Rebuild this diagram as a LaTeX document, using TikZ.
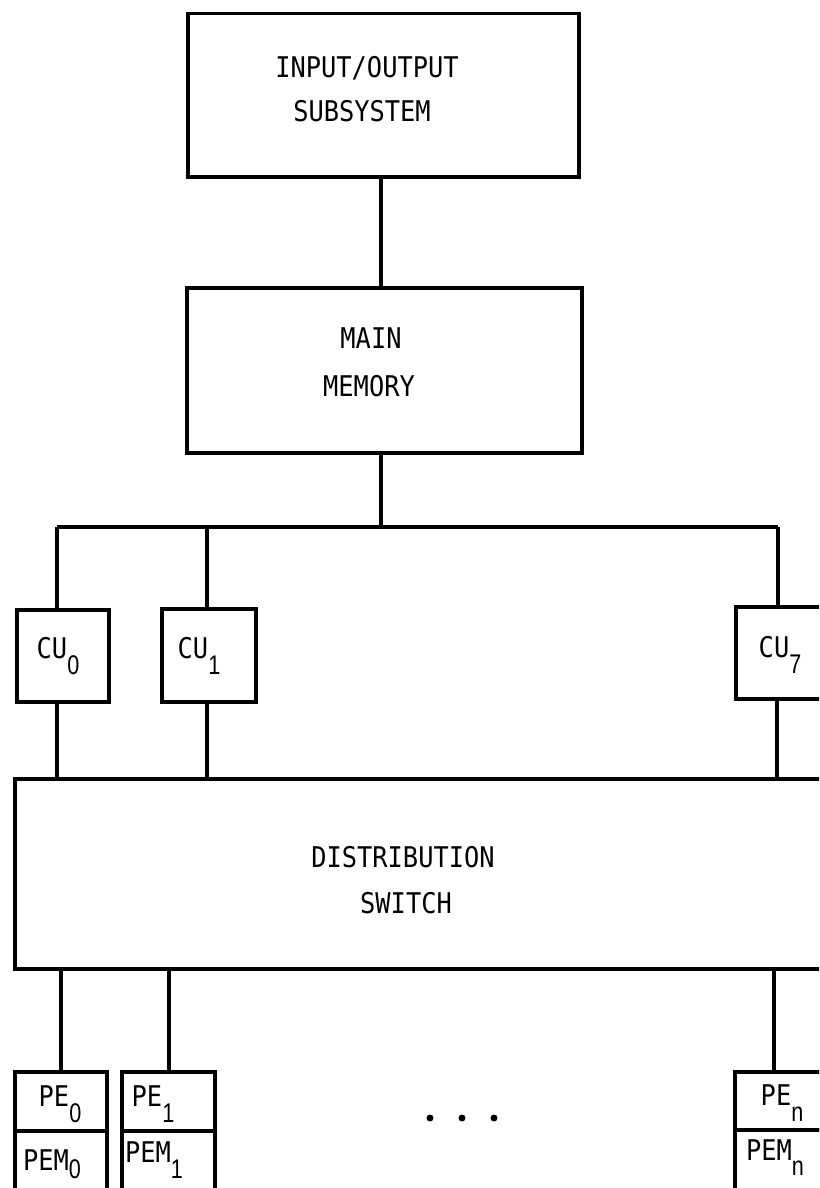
\documentclass[tikz,border=0pt]{standalone}
\usepackage{fontspec}
\setmainfont{DejaVu Sans Mono}[FakeStretch=0.89]
\newfontfamily\subfont{Liberation Sans}[FakeStretch=0.8]
\newcommand\lsub[2][16pt]{\raisebox{-#1}{\subfont\fontsize{27}{27}\selectfont #2}}
\begin{document}
\begin{tikzpicture}[x=1pt,y=-1pt,
  blk/.style={draw,line width=3.5pt,rectangle,anchor=north west,inner sep=0pt},
  lbl/.style={anchor=base,inner sep=0pt,font=\fontsize{28.5}{28.5}\selectfont},
  wire/.style={line width=3.5pt},
  dotn/.style={circle,fill=black,inner sep=0pt,minimum size=7pt}]
\useasboundingbox (0,0) rectangle (819,1188);
\clip (0,0) rectangle (819,1188);
% boxes
\node[blk,minimum width=391pt,minimum height=163pt] (io) at (186,12) {};
\node[blk,minimum width=395pt,minimum height=165pt] (mm) at (185,286) {};
\node[blk,minimum width=92pt,minimum height=92pt] (cu0) at (15,608) {};
\node[blk,minimum width=94pt,minimum height=93pt] (cu1) at (160,607) {};
\node[blk,minimum width=96pt,minimum height=92pt] (cu7) at (734,605) {};
\node[blk,minimum width=817pt,minimum height=190pt] (ds) at (13,777) {};
\node[blk,minimum width=92pt,minimum height=59pt] (pe0) at (13,1070) {};
\node[blk,minimum width=92pt,minimum height=70pt] (pem0) at (13,1129) {};
\node[blk,minimum width=93pt,minimum height=59pt] (pe1) at (120,1070) {};
\node[blk,minimum width=93pt,minimum height=70pt] (pem1) at (120,1129) {};
\node[blk,minimum width=97pt,minimum height=58pt] (pen) at (733,1070) {};
\node[blk,minimum width=97pt,minimum height=71pt] (pemn) at (733,1128) {};
% labels
\node[lbl] (tio1) at (367,78) {INPUT/OUTPUT};
\node[lbl] (tio2) at (362,122) {SUBSYSTEM};
\node[lbl] (tmm1) at (371,348) {MAIN};
\node[lbl] (tmm2) at (369,396) {MEMORY};
\node[lbl] (tds1) at (403,867) {DISTRIBUTION};
\node[lbl] (tds2) at (406,913) {SWITCH};
\node[lbl] (tcu0) at (58,658) {CU\lsub{0}};
\node[lbl] (tcu1) at (199,658) {CU\lsub{1}};
\node[lbl] (tcu7) at (780,657) {CU\lsub{7}};
\node[lbl] (tpe0) at (60,1106) {PE\lsub{0}};
\node[lbl] (tpem0) at (52,1170) {PEM\lsub[8pt]{0}};
\node[lbl] (tpe1) at (153,1106) {PE\lsub{1}};
\node[lbl] (tpem1) at (154,1162) {PEM\lsub{1}};
\node[lbl] (tpen) at (782,1105) {PE\lsub{n}};
\node[lbl] (tpemn) at (775,1160) {PEM\lsub[15pt]{n}};
% dots
\node[dotn] (d1) at (430,1118) {};
\node[dotn] (d2) at (462,1118) {};
\node[dotn] (d3) at (494,1118) {};
% bus coordinates
\coordinate (bm) at (381,527);
\coordinate (b0) at (57,527);
\coordinate (b1) at (207,527);
\coordinate (b7) at (778,527);
% connectors
\draw[wire] (io.south -| bm) -- (mm.north -| bm);
\draw[wire] (mm.south -| bm) -- (bm);
\draw[wire] (b0) -- (b7);
\draw[wire] (b0) -- (b0 |- cu0.north);
\draw[wire] (b1) -- (b1 |- cu1.north);
\draw[wire] (b7) -- (b7 |- cu7.north);
\draw[wire] (b0 |- cu0.south) -- (b0 |- ds.north);
\draw[wire] (b1 |- cu1.south) -- (b1 |- ds.north);
\draw[wire] ([xshift=-1pt]b7 |- cu7.south) -- ([xshift=-1pt]b7 |- ds.north);
\coordinate (p0) at (61,967);
\coordinate (p1) at (169,967);
\coordinate (pn) at (774,967);
\draw[wire] (p0 |- ds.south) -- (p0 |- pe0.north);
\draw[wire] (p1 |- ds.south) -- (p1 |- pe1.north);
\draw[wire] (pn |- ds.south) -- (pn |- pen.north);
\end{tikzpicture}
\end{document}
